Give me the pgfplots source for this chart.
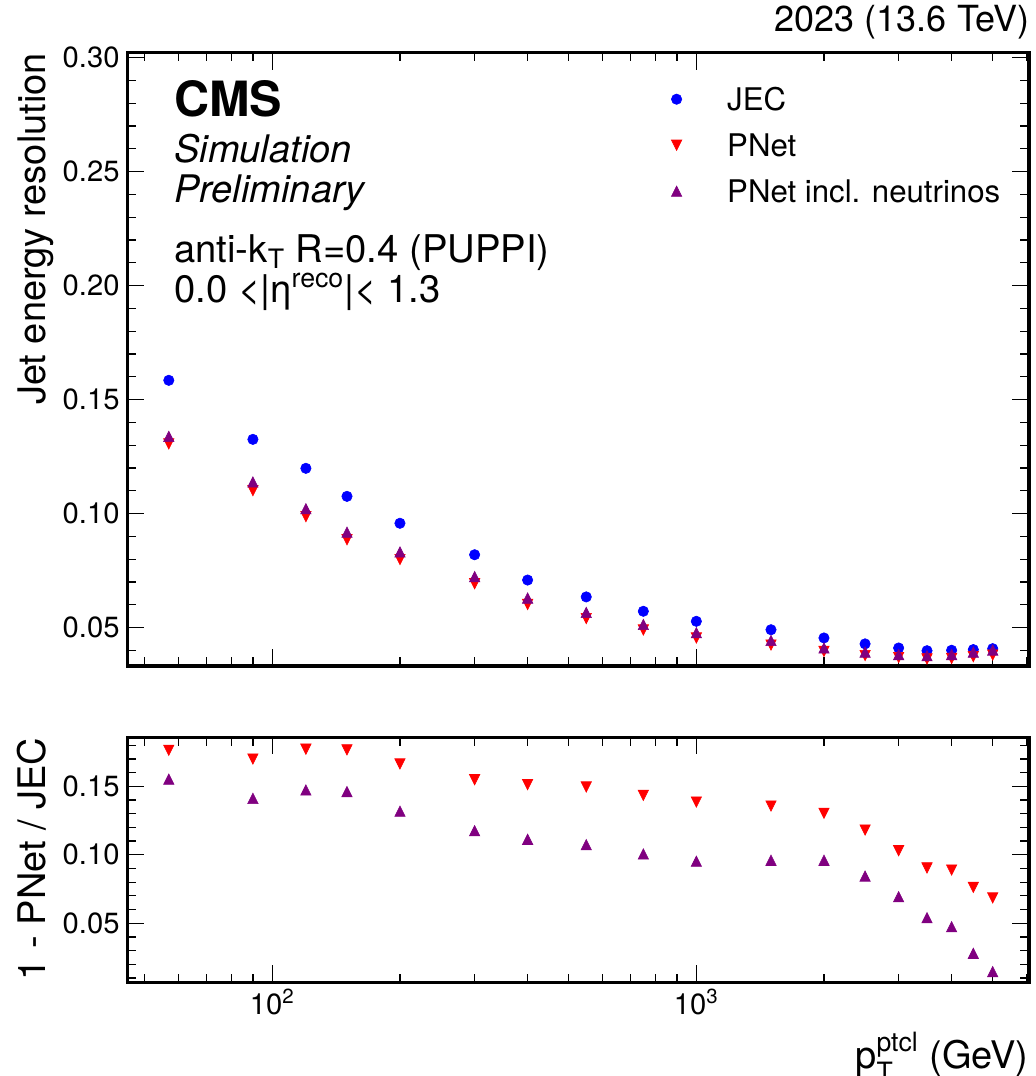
\documentclass[border=0pt]{standalone}
\usepackage{fontspec}
\setmainfont{TeX Gyre Heros}
\usepackage{amsmath}
\usepackage{pgfplots}
\usepackage{pgfplotstable}
\pgfplotsset{compat=1.18}

\definecolor{jecblue}{RGB}{0,0,255}
\definecolor{pnetred}{RGB}{255,0,0}
\definecolor{pnetpurple}{RGB}{128,0,128}

\pgfdeclareplotmark{tup}{%
  \pgfpathmoveto{\pgfqpoint{0pt}{\pgfplotmarksize}}%
  \pgfpathlineto{\pgfqpoint{-\pgfplotmarksize}{-\pgfplotmarksize}}%
  \pgfpathlineto{\pgfqpoint{\pgfplotmarksize}{-\pgfplotmarksize}}%
  \pgfpathclose\pgfusepathqfillstroke}
\pgfdeclareplotmark{tdown}{%
  \pgfpathmoveto{\pgfqpoint{0pt}{-\pgfplotmarksize}}%
  \pgfpathlineto{\pgfqpoint{-\pgfplotmarksize}{\pgfplotmarksize}}%
  \pgfpathlineto{\pgfqpoint{\pgfplotmarksize}{\pgfplotmarksize}}%
  \pgfpathclose\pgfusepathqfillstroke}

\pgfplotstableread{
x    jec    pnet   pnetnu rpnet  rpnetnu
57   0.1585 0.1306 0.1339 0.1763 0.1552
90   0.1326 0.1101 0.1139 0.1699 0.1412
120  0.1199 0.0987 0.1022 0.1771 0.1473
150  0.1076 0.0886 0.0919 0.1766 0.1461
200  0.0958 0.0799 0.0832 0.1663 0.1318
300  0.0820 0.0693 0.0724 0.1548 0.1176
400  0.0709 0.0602 0.0630 0.1512 0.1113
550  0.0635 0.0540 0.0567 0.1495 0.1074
750  0.0572 0.0490 0.0514 0.1434 0.1006
1000 0.0528 0.0455 0.0478 0.1385 0.0953
1500 0.0491 0.0424 0.0444 0.1356 0.0960
2000 0.0455 0.0396 0.0411 0.1303 0.0960
2500 0.0429 0.0378 0.0393 0.1181 0.0845
3000 0.0411 0.0369 0.0382 0.1030 0.0694
3500 0.0399 0.0363 0.0377 0.0904 0.0541
4000 0.0401 0.0365 0.0382 0.0889 0.0475
4500 0.0404 0.0373 0.0393 0.0763 0.0281
5000 0.0408 0.0380 0.0402 0.0685 0.0147
}\datatable

\pgfplotsset{
  cmsbase/.style={
    scale only axis,
    width=450.85pt,
    xmin=45.5, xmax=6090,
    xtick={100,1000},
    minor xtick={50,60,70,80,90,200,300,400,500,600,700,800,900,2000,3000,4000,5000,6000},
    tick align=inside,
    tick pos=both,
    major tick length=8.5pt,
    minor tick length=4.3pt,
    tick style={black, line width=0.6pt},
    axis line style={line width=1.6pt},
    /pgf/number format/assume math mode=true,
    scaled y ticks=false,
    yticklabel style={/pgf/number format/fixed, /pgf/number format/fixed zerofill, /pgf/number format/precision=2},
    y tick label style={anchor=east, inner sep=0pt, xshift=-3.7pt, font=\fontsize{14.6}{17}\selectfont},
    x tick label style={anchor=base, inner sep=0pt, yshift=-16pt, font=\fontsize{14.6}{17}\selectfont},
    ylabel style={at={(axis description cs:-0.09127,1)}, anchor=base east, inner sep=0pt, font=\fontsize{19}{22}\selectfont},
  }
}

\begin{document}
\begin{tikzpicture}
\begin{axis}[
  xmode=log,
  cmsbase,
  at={(63.65pt,205pt)}, anchor=south west,
  height=306.65pt,
  ymin=0.0332, ymax=0.30219,
  ytick={0.05,0.10,0.15,0.20,0.25,0.30},
  minor ytick={0.04,0.06,0.07,0.08,0.09,0.11,0.12,0.13,0.14,0.16,0.17,0.18,0.19,0.21,0.22,0.23,0.24,0.26,0.27,0.28,0.29},
  xticklabels={},
  ylabel={Jet energy resolution},
  title={2023 (13.6 TeV)},
  title style={at={(axis description cs:1,1)}, anchor=base east, inner sep=0pt, yshift=4.7pt, xshift=0.5pt, font=\fontsize{18}{21}\selectfont},
  legend cell align=left,
  legend image code/.code={\draw[#1] plot coordinates {(0pt,0pt)};},
  legend style={at={(axis description cs:0.6034,0.9429)}, anchor=north west, draw=none, fill=none,
    inner sep=0pt, outer sep=0pt, row sep=11.5pt,
    font=\fontsize{15.6}{18}\selectfont,
    nodes={inner sep=0pt, text height=11.5pt, text depth=0pt},
    /tikz/every odd column/.append style={column sep=22.7pt}},
]
\addplot[only marks, mark=*, mark size=2.6pt, color=jecblue, mark options={line width=0.3pt}] table[x=x, y=jec] {\datatable};
\addlegendentry{JEC}
\addplot[only marks, mark=tdown, mark size=2.6pt, color=pnetred, mark options={line width=0.3pt}] table[x=x, y=pnet] {\datatable};
\addlegendentry{PNet}
\addplot[only marks, mark=tup, mark size=2.6pt, color=pnetpurple, mark options={line width=0.3pt}] table[x=x, y=pnetnu] {\datatable};
\addlegendentry{PNet incl. neutrinos}

\node[anchor=base west, inner sep=0pt, font=\fontsize{24.3}{28}\selectfont\bfseries] at (axis description cs:0.0518,0.8956) {CMS};
\node[anchor=base west, inner sep=0pt, font=\fontsize{19}{22}\selectfont\itshape] at (axis description cs:0.0518,0.8206) {Simulation};
\node[anchor=base west, inner sep=0pt, font=\fontsize{19}{22}\selectfont\itshape] at (axis description cs:0.0518,0.7554) {Preliminary};
\node[anchor=base west, inner sep=0pt, font=\fontsize{19.1}{22}\selectfont] at (axis description cs:0.0518,0.6576) {anti-k\textsubscript{T} R=0.4 (PUPPI)};
\node[anchor=base west, inner sep=0pt, font=\fontsize{19.1}{22}\selectfont] at (axis description cs:0.0518,0.5924) {0.0 <|η\textsuperscript{reco}|< 1.3};
\end{axis}

\begin{axis}[
  xmode=log,
  cmsbase,
  at={(63.65pt,46.85pt)}, anchor=south west,
  height=122.5pt,
  ymin=0.00693, ymax=0.18577,
  ytick={0.05,0.10,0.15},
  minor ytick={0.01,0.02,0.03,0.04,0.06,0.07,0.08,0.09,0.11,0.12,0.13,0.14,0.16,0.17,0.18},
  xticklabels={10\textsuperscript{2},10\textsuperscript{3}},
  ylabel={1 - PNet / JEC},
  xlabel={$\text{p}^{\text{ptcl}}_{\text{T}}$ (GeV)},
  xlabel style={at={(axis description cs:1,0)}, anchor=base east, inner sep=0pt, yshift=-43.3pt, font=\fontsize{19}{22}\selectfont},
]
\addplot[only marks, mark=tdown, mark size=2.6pt, color=pnetred, mark options={line width=0.3pt}] table[x=x, y=rpnet] {\datatable};
\addplot[only marks, mark=tup, mark size=2.6pt, color=pnetpurple, mark options={line width=0.3pt}] table[x=x, y=rpnetnu] {\datatable};
\end{axis}
\pgfresetboundingbox
\path[use as bounding box] (0pt,0pt) rectangle (518pt,538pt);
\end{tikzpicture}
\end{document}
